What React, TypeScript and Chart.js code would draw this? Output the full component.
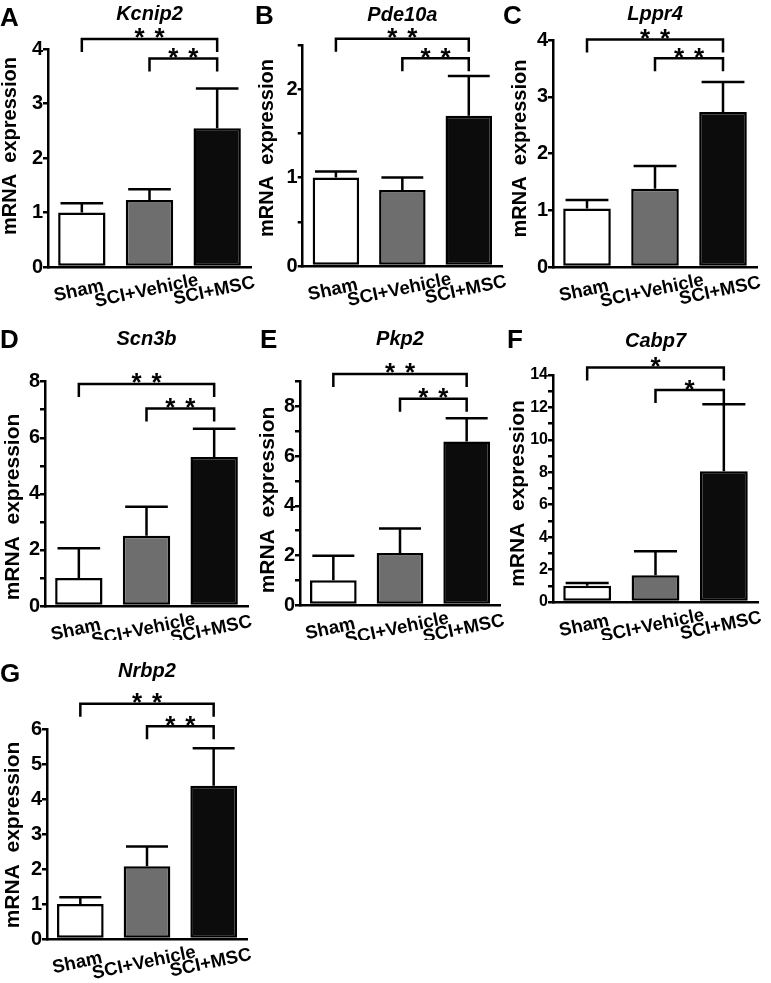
import React, { useEffect, useRef } from "react";
import { Chart, registerables } from "chart.js";

Chart.register(...registerables);

const FONT = '"Liberation Sans", Arial, Helvetica, sans-serif';

// ---------------- data ----------------
const groups = ["Sham", "SCI+Vehicle", "SCI+MSC"];
const panelLetters = ["A", "B", "C", "D", "E", "F", "G"];
const genes = ["Kcnip2", "Pde10a", "Lppr4", "Scn3b", "Pkp2", "Cabp7", "Nrbp2"];
const yAxisTitle = "mRNA  expression";

const kcnip2Mean = [1.0, 1.23, 2.55];
const kcnip2Sem = [0.17, 0.2, 0.73];
const pde10aMean = [1.0, 0.86, 1.7];
const pde10aSem = [0.07, 0.14, 0.45];
const lppr4Mean = [1.03, 1.38, 2.73];
const lppr4Sem = [0.15, 0.4, 0.53];
const scn3bMean = [1.0, 2.51, 5.31];
const scn3bSem = [1.06, 1.03, 1.01];
const pkp2Mean = [1.0, 2.1, 6.59];
const pkp2Sem = [0.99, 0.98, 0.94];
const cabp7Mean = [1.0, 1.65, 8.07];
const cabp7Sem = [0.17, 1.48, 4.13];
const nrbp2Mean = [1.0, 2.08, 4.38];
const nrbp2Sem = [0.19, 0.56, 1.07];

const means = [kcnip2Mean, pde10aMean, lppr4Mean, scn3bMean, pkp2Mean, cabp7Mean, nrbp2Mean];
const sems = [kcnip2Sem, pde10aSem, lppr4Sem, scn3bSem, pkp2Sem, cabp7Sem, nrbp2Sem];

const yMax = [4, 2.5, 4, 8, 9, 14, 6];
const yStep = [1, 0.5, 1, 1, 1, 1, 1];
const yLabelEvery = [1, 1, 1, 2, 2, 2, 1];

// significance brackets (data units): Sham vs SCI+MSC (outer), SCI+Vehicle vs SCI+MSC (inner)
const bracketOuter = [4.19, 2.57, 4.01, 7.92, 9.31, 14.47, 6.72];
const bracketInner = [3.83, 2.35, 3.68, 7.04, 8.31, 13.07, 6.08];
const sigOuter = ["**", "**", "**", "**", "**", "*", "**"];
const sigInner = ["**", "**", "**", "**", "**", "*", "**"];

// ---------------- styles / layout ----------------
const barColors = ["#ffffff", "#6e6e6e", "#0c0c0c"];

type Lay = {
  canvas: number[];
  area: number[];
  titleY: number;
  letter: number[];
  yTitle: number[];
  yTitleSize: number;
  tickSize: number;
};

const LAYOUT: Lay[] = [
  { canvas: [0, 0, 256, 310], area: [48, 49.3, 251, 267], titleY: 14, letter: [0, 17], yTitle: [10, 146], yTitleSize: 20, tickSize: 20 },
  { canvas: [253, 0, 256, 310], area: [302.7, 45, 502, 266], titleY: 15.7, letter: [255, 15], yTitle: [267, 148], yTitleSize: 20, tickSize: 20 },
  { canvas: [500, 0, 271, 310], area: [553, 40, 757, 267], titleY: 14, letter: [503, 15], yTitle: [520, 148.5], yTitleSize: 20, tickSize: 20 },
  { canvas: [0, 310, 256, 330], area: [45, 381.7, 248, 606], titleY: 339, letter: [0, 339], yTitle: [13, 507], yTitleSize: 21, tickSize: 20 },
  { canvas: [253, 310, 256, 330], area: [300, 381.7, 500, 605], titleY: 339, letter: [260, 339], yTitle: [268, 500], yTitleSize: 21, tickSize: 20 },
  { canvas: [503, 310, 268, 330], area: [553, 375, 758, 602], titleY: 341, letter: [507, 339], yTitle: [518, 493.5], yTitleSize: 21, tickSize: 16 },
  { canvas: [0, 640, 256, 343], area: [47, 729, 247, 939], titleY: 671, letter: [0, 673], yTitle: [13, 835], yTitleSize: 21, tickSize: 20 },
];

const LW = 2.5;
const LEG = 13;
const STAR_SIZE = 26;
const XLABEL_SIZE = 18.5;
const XLABEL_ROT = 12;

function drawStars(ctx: CanvasRenderingContext2D, cx: number, yLine: number, sig: string) {
  ctx.save();
  ctx.fillStyle = "#000";
  ctx.font = `bold ${STAR_SIZE}px ${FONT}`;
  ctx.textAlign = "center";
  ctx.textBaseline = "alphabetic";
  const n = sig.length;
  const gap = 20;
  const base = yLine - 7 + 0.557 * STAR_SIZE;
  for (let k = 0; k < n; k++) {
    const x = cx + (k - (n - 1) / 2) * gap;
    ctx.fillText("*", x, base);
  }
  ctx.restore();
}

function makeConfig(i: number): any {
  const L = LAYOUT[i];
  const [cl, ct, cw, ch] = L.canvas;
  const [al, at, ar, ab] = L.area;
  const yW = al - cl;
  const titleLH = 24;
  const tPadTop = L.titleY - ct - titleLH / 2;
  const tPadBottom = at - ct - tPadTop - titleLH;
  const every = yLabelEvery[i];

  const overlay = {
    id: "overlay" + i,
    afterDatasetsDraw(chart: any) {
      const ctx = chart.ctx as CanvasRenderingContext2D;
      const ys = chart.scales.y;
      const meta = chart.getDatasetMeta(0);
      ctx.save();
      ctx.strokeStyle = "#000";
      ctx.lineWidth = LW;
      ctx.lineCap = "butt";
      meta.data.forEach((bar: any, k: number) => {
        const p = bar.getProps(["x", "width"], true);
        const m = means[i][k];
        const e = sems[i][k];
        const yM = ys.getPixelForValue(m);
        const yT = ys.getPixelForValue(m + e);
        const half = p.width * 0.45;
        ctx.beginPath();
        ctx.moveTo(p.x, yM);
        ctx.lineTo(p.x, yT);
        ctx.moveTo(p.x - half, yT);
        ctx.lineTo(p.x + half, yT);
        ctx.stroke();
      });
      ctx.restore();
    },
    afterDraw(chart: any) {
      const ctx = chart.ctx as CanvasRenderingContext2D;
      const xs = chart.scales.x;
      const ys = chart.scales.y;
      const x0 = xs.getPixelForValue(0);
      const x1 = xs.getPixelForValue(1);
      const x2 = xs.getPixelForValue(2);
      const yo = ys.getPixelForValue(bracketOuter[i]);
      const yi = ys.getPixelForValue(bracketInner[i]);
      ctx.save();
      ctx.strokeStyle = "#000";
      ctx.lineWidth = LW;
      ctx.lineJoin = "miter";
      ctx.beginPath();
      ctx.moveTo(x0, yo + LEG);
      ctx.lineTo(x0, yo);
      ctx.lineTo(x2, yo);
      ctx.lineTo(x2, yo + LEG);
      ctx.stroke();
      ctx.beginPath();
      ctx.moveTo(x1, yi + LEG);
      ctx.lineTo(x1, yi);
      ctx.lineTo(x2, yi);
      ctx.lineTo(x2, yi + LEG);
      ctx.stroke();
      ctx.restore();
      drawStars(ctx, (x0 + x2) / 2, yo, sigOuter[i]);
      drawStars(ctx, (x1 + x2) / 2, yi, sigInner[i]);

      // category labels (rotated, centred under each bar)
      const bottom = chart.chartArea.bottom;
      ctx.save();
      ctx.fillStyle = "#000";
      ctx.font = `bold ${XLABEL_SIZE}px ${FONT}`;
      ctx.textAlign = "center";
      ctx.textBaseline = "middle";
      (chart.data.labels as string[]).forEach((lab, k) => {
        const cx = xs.getPixelForValue(k);
        ctx.save();
        ctx.translate(cx - 3, bottom + 24);
        ctx.rotate((-XLABEL_ROT * Math.PI) / 180);
        ctx.fillText(lab, 0, 0);
        ctx.restore();
      });
      ctx.restore();

      // y-axis title
      ctx.save();
      ctx.fillStyle = "#000";
      ctx.font = `bold ${L.yTitleSize}px ${FONT}`;
      ctx.textAlign = "center";
      ctx.textBaseline = "middle";
      ctx.translate(L.yTitle[0] - cl, L.yTitle[1] - ct);
      ctx.rotate(-Math.PI / 2);
      ctx.fillText(yAxisTitle, 0, 0);
      ctx.restore();

      // panel letter
      ctx.save();
      ctx.fillStyle = "#000";
      ctx.font = `bold 26px ${FONT}`;
      ctx.textAlign = "left";
      ctx.textBaseline = "alphabetic";
      ctx.fillText(panelLetters[i], L.letter[0] - cl, L.letter[1] - ct + 0.358 * 26);
      ctx.restore();
    },
  };

  return {
    type: "bar",
    data: {
      labels: groups,
      datasets: [
        {
          data: means[i],
          backgroundColor: barColors,
          borderColor: "#000",
          borderWidth: LW,
          borderSkipped: false,
          barPercentage: 0.7,
          categoryPercentage: 1,
        },
      ],
    },
    options: {
      responsive: false,
      animation: false,
      devicePixelRatio: 1,
      events: [],
      layout: {
        padding: { left: 0, top: 0, right: cw - (ar - cl), bottom: ch - (ab - ct) },
      },
      plugins: {
        legend: { display: false },
        tooltip: { enabled: false },
        title: {
          display: true,
          text: genes[i],
          fullSize: false,
          color: "#000",
          font: { family: FONT, size: 20, weight: "bold", style: "italic", lineHeight: 1.2 },
          padding: { top: tPadTop, bottom: tPadBottom },
        },
      },
      scales: {
        x: {
          type: "category",
          offset: true,
          grid: { display: false },
          border: { display: true, color: "#000", width: LW },
          ticks: { display: false },
          afterFit: (s: any) => {
            s.height = 0;
          },
        },
        y: {
          min: 0,
          max: yMax[i],
          ticks: {
            stepSize: yStep[i],
            autoSkip: false,
            padding: 0,
            color: "#000",
            font: { family: FONT, size: L.tickSize, weight: "bold" },
            callback: (v: number) => {
              const r = v / every;
              return Math.abs(r - Math.round(r)) < 1e-6 ? String(Math.round(v * 100) / 100) : "";
            },
          },
          grid: {
            drawOnChartArea: false,
            drawTicks: true,
            tickLength: 5,
            color: "#000",
            lineWidth: LW,
          },
          border: { display: true, color: "#000", width: LW },
          title: { display: false },
          afterFit: (s: any) => {
            s.width = yW;
          },
        },
      },
    },
    plugins: [overlay],
  };
}

function Panel({ idx }: { idx: number }) {
  const ref = useRef<HTMLCanvasElement | null>(null);
  useEffect(() => {
    if (!ref.current) return;
    const chart = new Chart(ref.current, makeConfig(idx));
    return () => chart.destroy();
  }, [idx]);
  const [cl, ct, cw, ch] = LAYOUT[idx].canvas;
  return (
    <canvas
      ref={ref}
      width={cw}
      height={ch}
      style={{ position: "absolute", left: cl, top: ct, width: cw, height: ch }}
    />
  );
}

export default function App() {
  return (
    <div style={{ position: "absolute", left: 0, top: 0, width: 771, height: 983, background: "#fff" }}>
      {genes.map((_, i) => (
        <Panel key={i} idx={i} />
      ))}
    </div>
  );
}
